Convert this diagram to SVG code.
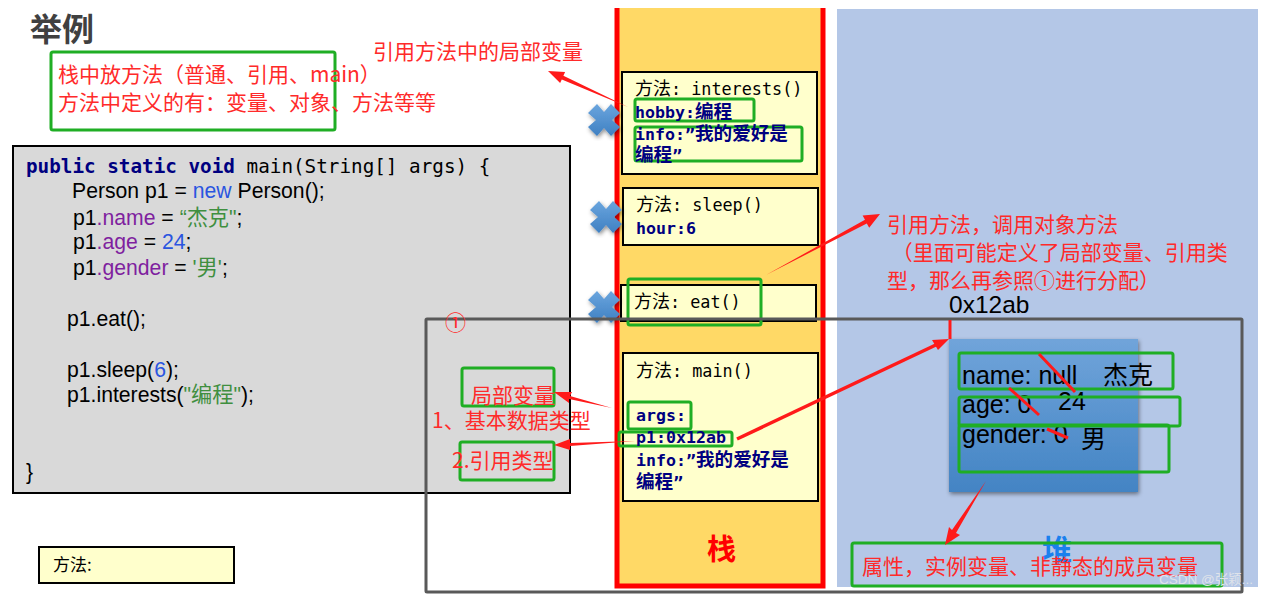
<svg xmlns="http://www.w3.org/2000/svg" width="1261" height="595" viewBox="0 0 1261 595">
<style>
text{font-family:"Liberation Sans","Noto Sans CJK SC",sans-serif;white-space:pre}
.cn{font-family:"DejaVu Sans Mono","Noto Sans CJK SC",monospace;font-size:16.8px;fill:#000}
.cn tspan{font-size:18px}
.mono{font-family:"DejaVu Sans Mono","Noto Sans CJK SC",monospace;font-size:16.6px;font-weight:bold;fill:#000080}
.mono tspan{font-size:18.6px}
.code{font-size:21.2px;fill:#000}
.r{font-size:21px;fill:#ff2a2a;font-family:"Noto Sans CJK SC","Liberation Sans",sans-serif}
.obj{font-size:25px;fill:#000}
.g{fill:none;stroke:#1fae24;stroke-width:3}
.box{fill:#ffffcc;stroke:#000;stroke-width:2}
.red{stroke:#ff1a1a;fill:none}
.p{fill:#7f1f9f}.b{fill:#2a55e0}.gr{fill:#3f8f3f}
.arrow{fill:#ff1a1a;stroke:none}
</style>
<defs>
<linearGradient id="obj" x1="0" y1="0" x2="0" y2="1"><stop offset="0" stop-color="#70a4da"/><stop offset="1" stop-color="#4384c4"/></linearGradient>
<linearGradient id="xg" x1="0" y1="0" x2="0" y2="1"><stop offset="0" stop-color="#6aa5de"/><stop offset="1" stop-color="#3f80c2"/></linearGradient>
<filter id="sh" x="-10%" y="-10%" width="125%" height="125%"><feDropShadow dx="1" dy="2" stdDeviation="2" flood-color="#000" flood-opacity=".45"/></filter>
<polygon id="x" points="-16,-7 -7,-16 0,-8 7,-16 16,-7 8,0 16,7 7,16 0,8 -7,16 -16,7 -8,0" fill="url(#xg)" filter="url(#sh)"/>
</defs>

<g id="title"><text x="30" y="41" style="font-size:32px;font-weight:bold;fill:#404040;font-family:'Noto Sans CJK SC',sans-serif">举例</text></g>

<g id="note">
<rect class="g" x="51" y="52" width="284" height="78" rx="2"/>
<text class="r" x="58" y="82">栈中放方法（普通、引用、main）</text>
<text class="r" x="58" y="110">方法中定义的有：变量、对象、方法等等</text>
</g>
<text class="r" x="373" y="59">引用方法中的局部变量</text>

<g id="code">
<rect x="13" y="146" width="557" height="347" fill="#d9d9d9" stroke="#000" stroke-width="2"/>
<text x="26" y="173" style="font-family:'DejaVu Sans Mono',monospace;font-size:19.3px;font-weight:bold;fill:#000080">public static void <tspan font-weight="normal" fill="#000">main(String[] args) {</tspan></text>
<text class="code" x="72" y="198">Person p1 = <tspan class="b">new</tspan> Person();</text>
<text class="code" x="73" y="225">p1<tspan class="p">.name</tspan> = <tspan class="gr">“杰克"</tspan>;</text>
<text class="code" x="73" y="249">p1<tspan class="p">.age</tspan> = <tspan class="b">24</tspan>;</text>
<text class="code" x="73" y="275">p1<tspan class="p">.gender</tspan> = <tspan class="gr">'男'</tspan>;</text>
<text class="code" x="67" y="326">p1.eat();</text>
<text class="code" x="67" y="377">p1.sleep(<tspan class="b">6</tspan>);</text>
<text class="code" x="67" y="402">p1.interests(<tspan class="gr">"编程"</tspan>);</text>
<text class="code" x="26" y="479">}</text>
</g>

<g id="legend">
<rect class="box" x="39" y="547" width="195" height="36"/>
<text x="53" y="571" style="font-size:17px;fill:#000;font-family:'Noto Sans CJK SC',sans-serif">方法:</text>
</g>

<g id="heap">
<rect x="837" y="9" width="421" height="578" fill="#b4c7e7"/>
<text x="1042" y="561" style="font-size:30px;font-weight:bold;fill:#1a80ee;font-family:'Noto Sans CJK SC',sans-serif">堆</text>
</g>

<g id="stack">
<path d="M617 8V586H823V8Z" fill="#ffd966" stroke="none"/>
<path d="M617 8V586H823V8" fill="none" stroke="#ff0000" stroke-width="5"/>
<text x="707" y="560" style="font-size:29px;font-weight:bold;fill:#ff0000;font-family:'Noto Sans CJK SC',sans-serif">栈</text>
</g>

<g id="method-interests">
<rect class="box" x="622" y="72" width="195" height="102"/>
<text class="cn" x="635" y="95"><tspan>方法</tspan>: interests()</text>
<rect class="g" x="635" y="99" width="119" height="22" rx="2"/>
<rect class="g" x="635" y="127" width="167" height="34" rx="2"/>
<text class="mono" x="635" y="118">hobby:<tspan>编程</tspan></text>
<text class="mono" x="635" y="140">info:”<tspan>我的爱好是</tspan></text>
<text class="mono" x="635" y="161"><tspan>编程</tspan>”</text>
</g>
<g id="method-sleep">
<rect class="box" x="623" y="188" width="195" height="57"/>
<text class="cn" x="636" y="211"><tspan>方法</tspan>: sleep()</text>
<text class="mono" x="636" y="234">hour:6</text>
</g>
<g id="method-eat">
<rect class="box" x="621" y="285" width="195" height="36"/>
<text class="cn" x="634" y="308"><tspan>方法</tspan>: eat()</text>
<rect class="g" x="628" y="279" width="133" height="46" rx="2"/>
</g>
<g id="method-main">
<rect class="box" x="623" y="353" width="195" height="148"/>
<text class="cn" x="636" y="377"><tspan>方法</tspan>: main()</text>
<rect class="g" x="628" y="402" width="63" height="27" rx="2"/>
<rect class="g" x="619" y="432" width="113" height="14" rx="2"/>
<text class="mono" x="636" y="421">args:</text>
<text class="mono" x="636" y="443">p1:0x12ab</text>
<text class="mono" x="636" y="466">info:”<tspan>我的爱好是</tspan></text>
<text class="mono" x="636" y="488"><tspan>编程</tspan>”</text>
</g>

<g id="crosses">
<use href="#x" x="604" y="120"/>
<use href="#x" x="606" y="217"/>
<use href="#x" x="604" y="307"/>
</g>

<g id="object">
<rect x="949" y="339" width="189" height="153" fill="url(#obj)" filter="url(#sh)"/>
<text class="obj" x="962" y="384">name: null</text>
<text class="obj" x="1103" y="384">杰克</text>
<text class="obj" x="1058" y="410">24</text>
<text class="obj" x="962" y="413">age: 0</text>
<text class="obj" x="962" y="443">gender: 0</text>
<text class="obj" x="1081" y="448">男</text>
<rect class="g" x="959" y="353" width="214" height="36" rx="2"/>
<rect class="g" x="959" y="397" width="221" height="29" rx="2"/>
<rect class="g" x="959" y="425" width="210" height="47" rx="2"/>
</g>

<g id="group-box"><rect x="426" y="319" width="816" height="273" fill="none" stroke="#595959" stroke-width="3" rx="1"/>
<text x="445" y="330" style="font-size:21px;fill:#ff2a2a;font-family:'Noto Sans CJK SC',sans-serif">①</text></g>

<g id="labels">
<text class="r" x="887" y="232">引用方法，调用对象方法</text>
<text class="r" x="887" y="260"> （里面可能定义了局部变量、引用类</text>
<text class="r" x="887" y="288">型，那么再参照①进行分配）</text>
<text x="949" y="313" style="font-size:24.5px;fill:#000">0x12ab</text>
<rect class="g" x="462" y="368" width="92" height="38" rx="2"/>
<text class="r" x="471" y="403">局部变量</text>
<text class="r" x="432" y="428">1、基本数据类型</text>
<rect class="g" x="460" y="442" width="94" height="38" rx="2"/>
<text class="r" x="452" y="468">2.引用类型</text>
<rect class="g" x="852" y="543" width="370" height="43" rx="2"/>
<text class="r" x="862" y="574">属性，实例变量、非静态的成员变量</text>
<text x="1159" y="584" style="font-size:13.5px;fill:#dfe3ea">CSDN @张颖...</text>
</g>

<g id="connectors">
<polygon class="arrow" points="628,107 563.4,75.8 565.1,72.1 548,71 560.1,83.1 561.8,79.4"/>
<polygon class="arrow" points="766,275 866.8,223.4 869.2,227.8 880,214 862.6,215.4 865,219.8"/>
<polygon class="arrow" points="612,408 570,396 572,392 554,392 569,403 569,399"/>
<polygon class="arrow" points="635,441 570,443 570,439 554,445 570,450 570,446"/>
<line class="red" x1="737" y1="439" x2="940" y2="343" stroke-width="3.5"/>
<polygon class="arrow" points="949,339 932,340 938,350"/>
<line class="red" x1="950" y1="320" x2="950" y2="339" stroke-width="3"/>
<polygon class="arrow" points="986,481 952,530 949,527 945,545 960,535 956,533"/>
<line class="red" x1="1039" y1="354" x2="1075" y2="392" stroke-width="3"/>
<line class="red" x1="1009" y1="388" x2="1039" y2="415" stroke-width="3"/>
<line class="red" x1="1047" y1="429" x2="1068" y2="438" stroke-width="3"/>
</g>
</svg>
